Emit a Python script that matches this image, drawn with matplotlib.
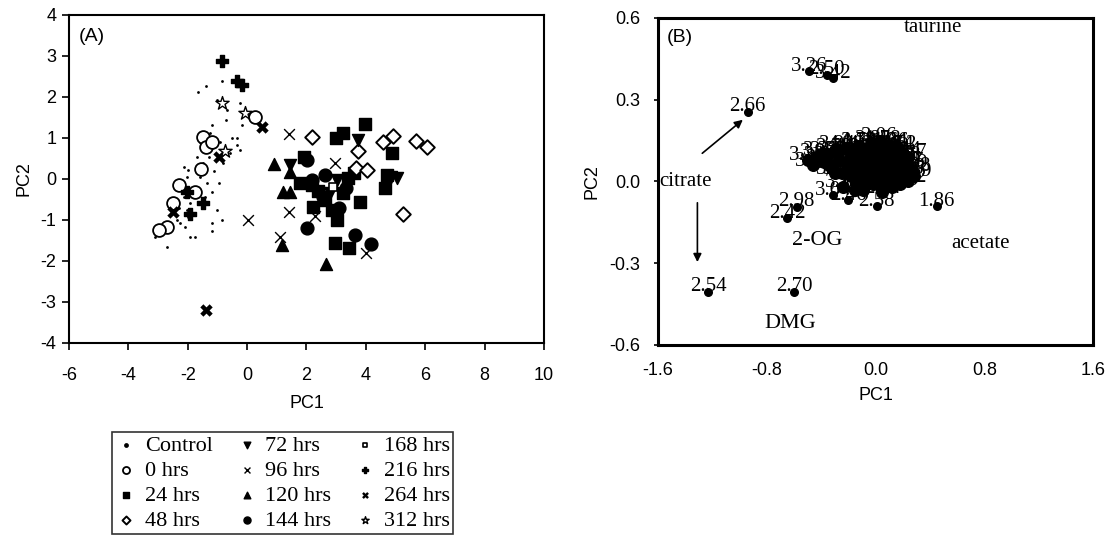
import matplotlib.pyplot as plt

plt.rcParams['font.family'] = ['Liberation Sans', 'DejaVu Sans']
plt.rcParams['axes.unicode_minus'] = False
SERIF = ['Liberation Serif', 'DejaVu Serif']

# ---- panel A : scores ----
control_x = [-1.64, -1.39, -0.85, -1.02, -0.68, -0.72, -1.19, -1.25, -1.61, -1.58, -1.53, -0.91,
             -0.52, -0.35, -0.24, -0.68, -0.57, -1.30, -1.47, -1.69, -2.14, -1.98, -2.03, -1.58,
             -1.36, -0.94, -1.19, -1.41, -1.36, -1.02, -0.85, -1.19, -1.69, -1.92, -2.14, -2.03,
             -1.98, -2.26, -2.09, -1.92, -1.75, -2.37, -2.59, -2.70, -3.10, -1.19, -0.35, -0.24,
             -0.18, -1.10, -0.80, -1.75, -2.30]
control_y = [2.13, 2.27, 2.40, 1.93, 1.68, 1.44, 1.32, 1.11, 1.07, 0.91, 0.79, 0.91,
             0.99, 0.99, 0.71, 0.67, 0.63, 0.54, 0.38, 0.54, 0.30, 0.22, 0.06, 0.06,
             -0.10, -0.10, -0.31, -0.43, -0.55, -0.76, -1.00, -1.08, -0.43, -0.59, -0.43, -0.76,
             -0.92, -1.08, -1.16, -1.41, -1.41, -1.00, -1.24, -1.65, -1.41, -1.28, 0.83, 1.85,
             1.32, 0.20, 0.40, -0.20, -0.70]
h0_x = [0.25, -1.47, -1.39, -1.19, -1.56, -2.31, -1.77, -2.48, -2.70, -2.97]
h0_y = [1.52, 1.02, 0.79, 0.89, 0.24, -0.15, -0.31, -0.59, -1.16, -1.24]
h24_x = [3.97, 3.00, 3.24, 4.87, 1.90, 4.70, 4.65, 3.80, 3.41, 2.18, 1.78, 2.63, 2.23, 2.85,
         3.02, 2.96, 3.44, 3.23, 2.40, 3.60]
h24_y = [1.34, 0.99, 1.11, 0.64, 0.54, 0.10, -0.23, -0.55, 0.02, -0.15, -0.10, -0.51, -0.68,
         -0.76, -1.00, -1.57, -1.69, -0.34, -0.30, 0.15]
h48_x = [2.18, 4.90, 4.57, 5.68, 6.05, 3.75, 3.67, 4.03, 5.26]
h48_y = [1.03, 1.05, 0.89, 0.93, 0.77, 0.67, 0.26, 0.22, -0.85]
h72_x = [3.75, 1.45, 5.04, 3.02, 2.80, 4.85]
h72_y = [0.95, 0.34, 0.02, -0.02, -0.35, 0.05]
h96_x = [1.42, 0.04, 1.42, 2.96, 1.11, 4.01, 2.30]
h96_y = [1.09, -1.00, -0.80, 0.38, -1.41, -1.81, -0.90]
h120_x = [0.89, 1.45, 1.22, 1.45, 1.17, 2.65]
h120_y = [0.37, 0.18, -0.31, -0.31, -1.61, -2.07]
h144_x = [2.01, 2.63, 2.18, 3.33, 2.01, 3.64, 4.17, 2.57, 3.10]
h144_y = [0.46, 0.10, -0.02, -0.23, -1.20, -1.37, -1.59, -0.43, -0.70]
h168_x = [2.90]
h168_y = [-0.20]
h216_x = [-0.85, -0.35, -0.18, -2.03, -1.47, -1.92]
h216_y = [2.88, 2.39, 2.29, -0.31, -0.59, -0.85]
h264_x = [0.49, -0.93, -1.39, -2.48]
h264_y = [1.26, 0.54, -3.20, -0.80]
h312_x = [-0.83, -0.07, -0.76]
h312_y = [1.86, 1.60, 0.68]

# ---- panel B : loadings ----
load_x = [-0.94, -0.49, -0.31, -0.36, -0.31, -0.20, 0.01, 0.45, -0.58, -0.65, -1.23, -0.60]
load_y = [0.256, 0.405, 0.380, 0.392, -0.050, -0.068, -0.090, -0.090, -0.092, -0.135, -0.404, -0.404]
load_lab = ['2.66', '3.26', '3.42', '2.50', '3.04', '2.46', '2.58', '1.86', '2.98', '2.42', '2.54', '2.70']

clus_x = [-0.50, -0.46, -0.42, -0.38, -0.35, -0.32, -0.30, -0.27, -0.25, -0.22, -0.20, -0.18,
          -0.16, -0.14, -0.12, -0.10, -0.08, -0.06, -0.04, -0.02, 0.00, 0.02, 0.04, 0.06,
          0.08, 0.10, 0.12, 0.14, 0.16, 0.18, 0.20, 0.22, 0.25, 0.28, -0.24, -0.15, -0.05,
          0.05, 0.15, -0.10, 0.00, 0.10, 0.20, -0.02, 0.08, -0.12, 0.12, -0.30, 0.24, 0.03,
          -0.20, -0.16, -0.12, -0.08, -0.04, 0.00, 0.04, 0.08, 0.12, 0.16, 0.20, 0.24,
          -0.18, -0.13, -0.07, -0.01, 0.05, 0.11, 0.17, 0.23, -0.09, -0.03, 0.03, 0.09, 0.15,
          -0.22, -0.14, -0.06, 0.02, 0.10, 0.18, 0.27, -0.40, -0.34, -0.28]
clus_y = [0.08, 0.06, 0.09, 0.07, 0.10, 0.05, 0.11, 0.08, 0.03, 0.12, 0.06, 0.02,
          0.10, 0.04, 0.13, 0.07, 0.00, 0.11, 0.05, 0.14, 0.02, 0.09, -0.02, 0.12,
          0.05, 0.01, 0.10, 0.04, 0.08, -0.01, 0.06, 0.03, 0.05, 0.02, -0.02, -0.03,
          0.03, -0.04, 0.12, 0.09, 0.07, 0.13, 0.10, -0.01, 0.02, 0.06, -0.02, 0.03, 0.09, 0.15,
          0.04, 0.08, 0.02, 0.05, 0.09, 0.04, 0.07, 0.10, 0.06, 0.03, 0.08, 0.00,
          0.11, 0.13, 0.12, 0.11, 0.14, 0.13, 0.12, 0.06, -0.03, 0.01, 0.11, -0.01, 0.05,
          0.07, -0.01, 0.03, 0.05, 0.08, 0.02, 0.04, 0.10, 0.06, 0.12]
clus_lab = ['3.30', '3.74', '3.90', '3.82', '3.70', '3.66', '3.58', '3.54', '3.46', '4.06',
            '3.98', '3.38', '3.94', '3.86', '3.78', '4.10', '3.62', '3.22', '3.14', '3.86',
            '1.17', '4.14', '2.06', '1.48', '1.33', '2.14', '1.29', '1.21', '1.13', '2.30',
            '1.09', '1.25', '1.39', '1.59', '3.10', '3.18', '2.22', '2.34', '1.74', '2.02',
            '2.10', '1.94', '1.44', '2.26', '1.70', '3.34', '1.90', '3.50', '1.37', '3.06',
            '3.02', '2.94', '2.90', '2.86', '2.82', '2.78', '2.74', '2.62', '2.38', '2.18',
            '1.98', '1.82', '4.02', '4.18', '4.22', '4.26', '1.78', '1.66', '1.62', '1.55',
            '2.90', '2.46', '1.52', '1.41', '1.45', '3.26', '2.26', '2.13', '1.88', '1.36',
            '1.19', '0.98', '3.34', '3.74', '3.94']

fig = plt.figure(figsize=(11.09, 5.42), dpi=100)
axA = fig.add_axes([0.0622, 0.3672, 0.4283, 0.6052])
axB = fig.add_axes([0.5933, 0.3635, 0.3923, 0.6033])

series = [
    ('Control', control_x, control_y, dict(marker='o', s=4, c='k', linewidths=0)),
    ('0 hrs', h0_x, h0_y, dict(marker='o', s=85, facecolors='white', edgecolors='k', linewidths=1.3)),
    ('24 hrs', h24_x, h24_y, dict(marker='s', s=65, c='k')),
    ('48 hrs', h48_x, h48_y, dict(marker='D', s=55, facecolors='white', edgecolors='k', linewidths=1.4)),
    ('72 hrs', h72_x, h72_y, dict(marker='v', s=75, c='k')),
    ('96 hrs', h96_x, h96_y, dict(marker='x', s=60, c='k', linewidths=1.0)),
    ('120 hrs', h120_x, h120_y, dict(marker='^', s=75, c='k')),
    ('144 hrs', h144_x, h144_y, dict(marker='o', s=85, c='k')),
    ('168 hrs', h168_x, h168_y, dict(marker='s', s=30, facecolors='white', edgecolors='k', linewidths=1.2)),
    ('216 hrs', h216_x, h216_y, dict(marker='P', s=80, c='k')),
    ('264 hrs', h264_x, h264_y, dict(marker='X', s=80, c='k', linewidths=0)),
    ('312 hrs', h312_x, h312_y, dict(marker='*', s=100, facecolors='white', edgecolors='k', linewidths=1.0)),
]
handles = []
for name, xs, ys, kw in series:
    h = axA.scatter(xs, ys, label=name, zorder=3, **kw)
    handles.append(h)

axA.set_xlim(-6, 10)
axA.set_ylim(-4, 4)
axA.set_xticks(range(-6, 11, 2))
axA.set_yticks(range(-4, 5))
axA.tick_params(labelsize=13, length=5, width=1.2, pad=4)
axA.tick_params(axis='x', pad=12)
axA.set_xlabel('PC1', fontsize=13, labelpad=8)
axA.set_ylabel('PC2', fontsize=13, labelpad=6)
for sp in axA.spines.values():
    sp.set_linewidth(1.5)
axA.text(0.02, 0.96, '(A)', transform=axA.transAxes, fontsize=14, va='top')

leg = fig.legend(handles=handles, ncol=3, loc='upper left', bbox_to_anchor=(0.101, 0.203),
                 prop={'family': SERIF, 'size': 16}, frameon=True, fancybox=False,
                 edgecolor='k', handletextpad=0.35, columnspacing=1.0, labelspacing=0.2,
                 borderpad=0.15, handlelength=1.0, markerscale=0.55, borderaxespad=0)
leg.get_frame().set_linewidth(1.2)
leg.legend_handles[0].set_sizes([12])

# panel B
axB.scatter(clus_x, clus_y, s=70, c='k', zorder=3)
axB.scatter(load_x, load_y, s=30, c='k', zorder=3)
for x, y, t in zip(clus_x, clus_y, clus_lab):
    axB.text(x, y + 0.015, t, family=SERIF, fontsize=15, ha='center', va='center')
for x, y, t in zip(load_x, load_y, load_lab):
    axB.text(x, y + 0.018, t, family=SERIF, fontsize=15, ha='center', va='center')

axB.text(0.42, 0.565, 'taurine', family=SERIF, fontsize=15, ha='center', va='center')
axB.text(-1.59, 0.0, 'citrate', family=SERIF, fontsize=15, ha='left', va='center')
axB.text(-0.43, -0.215, '2-OG', family=SERIF, fontsize=16, ha='center', va='center')
axB.text(0.77, -0.226, 'acetate', family=SERIF, fontsize=15, ha='center', va='center')
axB.text(-0.63, -0.52, 'DMG', family=SERIF, fontsize=16, ha='center', va='center')
axB.annotate('', xy=(-0.96, 0.233), xytext=(-1.29, 0.097),
             arrowprops=dict(arrowstyle='-|>', color='k', lw=1.2, mutation_scale=12))
axB.annotate('', xy=(-1.31, -0.306), xytext=(-1.31, -0.068),
             arrowprops=dict(arrowstyle='-|>', color='k', lw=1.2, mutation_scale=12))
axB.text(0.02, 0.965, '(B)', transform=axB.transAxes, fontsize=14, va='top')

axB.set_xlim(-1.6, 1.6)
axB.set_ylim(-0.6, 0.6)
axB.set_xticks([-1.6, -0.8, 0.0, 0.8, 1.6])
axB.set_xticklabels(['-1.6', '-0.8', '0.0', '0.8', '1.6'])
axB.set_yticks([-0.6, -0.3, 0.0, 0.3, 0.6])
axB.set_yticklabels(['-0.6', '-0.3', '0.0', '0.3', '0.6'])
axB.tick_params(labelsize=13, length=3, width=1.2)
axB.tick_params(axis='x', pad=12, length=0)
axB.tick_params(axis='y', pad=10)
axB.set_xlabel('PC1', fontsize=13, labelpad=6)
axB.set_ylabel('PC2', fontsize=13, labelpad=6)
for sp in axB.spines.values():
    sp.set_linewidth(2.2)

fig.savefig('out.png', dpi=100)
